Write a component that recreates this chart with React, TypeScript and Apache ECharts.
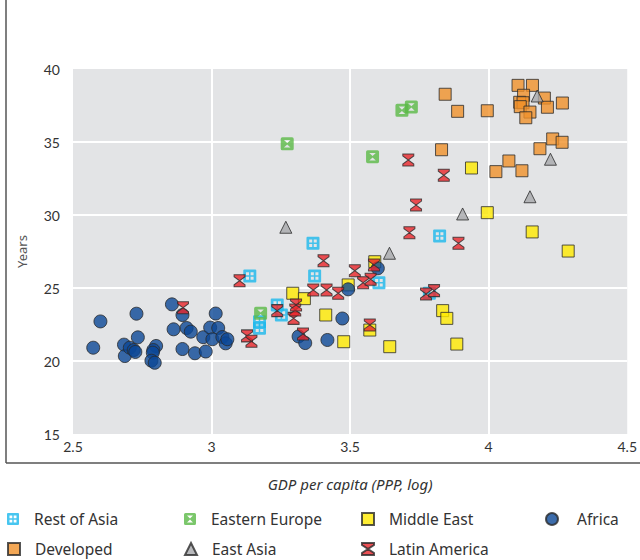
import React, { useEffect, useRef } from "react";
import * as echarts from "echarts";

// x = GDP per capita (PPP, log), y = median age (years)
const restOfAsia: number[][] = [
  [3.138, 25.82], [3.173, 22.69], [3.173, 22.24], [3.237, 23.84], [3.252, 23.15],
  [3.366, 28.06], [3.372, 25.82], [3.604, 25.36], [3.786, 24.64], [3.823, 28.56],
];
const easternEurope: number[][] = [
  [3.177, 23.27], [3.273, 34.88], [3.581, 33.99], [3.687, 37.17], [3.721, 37.4],
];
const middleEast: number[][] = [
  [3.293, 24.64], [3.335, 24.27], [3.412, 23.15], [3.477, 21.32], [3.493, 25.21],
  [3.571, 22.12], [3.589, 26.8], [3.643, 20.98], [3.834, 23.45], [3.849, 22.92],
  [3.885, 21.16], [3.938, 33.22], [3.995, 30.16], [4.157, 28.84], [4.287, 27.53],
];
const africa: number[][] = [
  [2.573, 20.91], [2.599, 22.71], [2.729, 23.24], [2.734, 21.62], [2.684, 21.12],
  [2.687, 20.34], [2.705, 20.91], [2.719, 20.75], [2.725, 20.62], [2.8, 21.03],
  [2.79, 20.75], [2.788, 20.57], [2.783, 20.02], [2.795, 19.88], [2.857, 23.88],
  [2.863, 22.17], [2.895, 23.15], [2.895, 20.82], [2.91, 22.26], [2.925, 22.01],
  [2.94, 20.53], [2.979, 20.65], [2.97, 21.63], [2.995, 22.29], [3.015, 23.25],
  [3.024, 22.26], [3.003, 21.49], [3.039, 21.64], [3.051, 21.21], [3.057, 21.49],
  [3.314, 21.68], [3.338, 21.23], [3.418, 21.44], [3.472, 22.91], [3.493, 24.91],
  [3.6, 26.35],
];
const developed: number[][] = [
  [4.106, 38.88], [4.158, 38.88], [3.843, 38.27], [4.126, 38.2], [4.201, 38.01],
  [4.266, 37.67], [4.112, 37.72], [4.124, 37.69], [4.114, 37.42], [4.212, 37.38],
  [3.888, 37.1], [3.995, 37.14], [4.149, 37.05], [4.134, 36.66], [4.231, 35.21],
  [4.265, 34.98], [3.83, 34.47], [4.185, 34.54], [4.073, 33.7], [4.026, 32.97],
  [4.12, 33.03],
];
const eastAsia: number[][] = [
  [3.268, 29.16], [3.642, 27.38], [3.906, 30.07], [4.149, 31.25], [4.175, 38.15],
  [4.223, 33.82],
];
const latinAmerica: number[][] = [
  [2.897, 23.65], [3.101, 25.5], [3.128, 21.72], [3.144, 21.35], [3.237, 23.45],
  [3.296, 22.92], [3.302, 23.49], [3.305, 23.84], [3.33, 21.85], [3.367, 24.86],
  [3.404, 26.87], [3.415, 24.86], [3.457, 24.64], [3.517, 26.18], [3.547, 25.36],
  [3.574, 25.6], [3.586, 26.58], [3.571, 22.47], [3.71, 33.77], [3.714, 28.79],
  [3.738, 30.68], [3.774, 24.59], [3.803, 24.82], [3.838, 32.72], [3.891, 28.06],
];

const FONT = "'Noto Sans', sans-serif";
const TICK_FONT = "Lato, 'Noto Sans', sans-serif";

const SYM_ROA =
  "path://M1,0H11Q12,0 12,1V11Q12,12 11,12H1Q0,12 0,11V1Q0,0 1,0Z" +
  "M2.5,2.5V5.3H5.3V2.5Z M6.7,2.5V5.3H9.5V2.5Z M2.5,6.7V9.5H5.3V6.7Z M6.7,6.7V9.5H9.5V6.7Z";
const SYM_EE =
  "path://M1.5,0H10.5Q12,0 12,1.5V10.5Q12,12 10.5,12H1.5Q0,12 0,10.5V1.5Q0,0 1.5,0Z" +
  "M3,2.5L6,5.4L9,2.5Z M3,9.5L9,9.5L6,6.6Z";
const SYM_LA = "path://M0,0H12V2L6,6L12,10V12H0V10L6,6L0,2Z";

export default function App() {
  const ref = useRef<HTMLDivElement>(null);
  useEffect(() => {
    document.body.style.margin = "0";
    const chart = echarts.init(ref.current!, null, { renderer: "svg" });
    const legendItems = [
      { name: "Rest of Asia", cx: 13, cy: 518, gap: 10 },
      { name: "Eastern Europe", cx: 190, cy: 518, gap: 10 },
      { name: "Middle East", cx: 367, cy: 518, gap: 10 },
      { name: "Africa", cx: 551, cy: 518, gap: 14 },
      { name: "Developed", cx: 13, cy: 548, gap: 10 },
      { name: "East Asia", cx: 190, cy: 548, gap: 10 },
      { name: "Latin America", cx: 367, cy: 548, gap: 10 },
    ];
    const border = { borderColor: "#2a2a2a", borderWidth: 1 };
    chart.setOption({
      animation: false,
      backgroundColor: "#ffffff",
      textStyle: { fontFamily: FONT },
      grid: {
        left: 73,
        right: 9,
        top: 69,
        bottom: 126,
        show: true,
        backgroundColor: "#e3e4e6",
        borderWidth: 0,
      },
      xAxis: {
        type: "value",
        min: 2.5,
        max: 4.5,
        interval: 0.5,
        name: "GDP per capita (PPP, log)",
        nameLocation: "middle",
        nameGap: 42,
        nameTextStyle: { fontFamily: FONT, fontSize: 15, fontStyle: "italic", color: "#333" },
        axisLine: { show: false },
        axisTick: { show: false },
        axisLabel: { fontFamily: TICK_FONT, fontSize: 14, color: "#333", margin: 5 },
        splitLine: { show: true, showMinLine: false, showMaxLine: false, lineStyle: { color: "#ffffff", width: 2 } },
      },
      yAxis: {
        type: "value",
        min: 15,
        max: 40,
        interval: 5,
        name: "Years",
        nameLocation: "middle",
        nameGap: 45,
        nameTextStyle: { fontFamily: FONT, fontSize: 13, color: "#555" },
        axisLine: { show: false },
        axisTick: { show: false },
        axisLabel: {
          fontFamily: TICK_FONT,
          fontSize: 14,
          color: "#333",
          margin: 13,
          padding: [0, 0, 10, 0],
        },
        splitLine: { show: true, showMinLine: false, showMaxLine: false, lineStyle: { color: "#ffffff", width: 2 } },
      },
      legend: legendItems.map((l) => ({
        data: [l.name],
        left: l.cx - 6,
        top: l.cy - 7,
        padding: 0,
        itemWidth: 12,
        itemHeight: 12,
        selectedMode: false,
        textStyle: { fontFamily: FONT, fontSize: 15.5, color: "#333", padding: [0, 0, 0, l.gap] },
      })),
      graphic: [
        { type: "line", shape: { x1: 6, y1: 0, x2: 6, y2: 463 }, style: { stroke: "#555", lineWidth: 1.5 } },
        { type: "line", shape: { x1: 6, y1: 463, x2: 640, y2: 463 }, style: { stroke: "#555", lineWidth: 1.5 } },
      ],
      series: [
        {
          name: "Developed", type: "scatter", data: developed, symbol: "rect", symbolSize: 12,
          itemStyle: { color: "#f0912a", ...border },
        },
        {
          name: "Middle East", type: "scatter", data: middleEast, symbol: "rect", symbolSize: 12,
          itemStyle: { color: "#ffea00", ...border },
        },
        {
          name: "East Asia", type: "scatter", data: eastAsia, symbol: "triangle", symbolSize: 12,
          itemStyle: { color: "#a6a8ab", ...border },
        },
        {
          name: "Rest of Asia", type: "scatter", data: restOfAsia, symbol: SYM_ROA, symbolSize: 13,
          symbolKeepAspect: true,
          itemStyle: { color: "#1ab8ec", borderWidth: 0 },
        },
        {
          name: "Eastern Europe", type: "scatter", data: easternEurope, symbol: SYM_EE, symbolSize: 13,
          symbolKeepAspect: true,
          itemStyle: { color: "#5ab946", borderWidth: 0 },
        },
        {
          name: "Africa", type: "scatter", data: africa, symbol: "circle", symbolSize: 13,
          itemStyle: { color: "#0b4796", ...border },
        },
        {
          name: "Latin America", type: "scatter", data: latinAmerica, symbol: SYM_LA, symbolSize: [11, 12],
          itemStyle: { color: "#e8262b", ...border },
        },
      ],
    });
    return () => chart.dispose();
  }, []);
  return <div ref={ref} style={{ width: 640, height: 560 }} />;
}
